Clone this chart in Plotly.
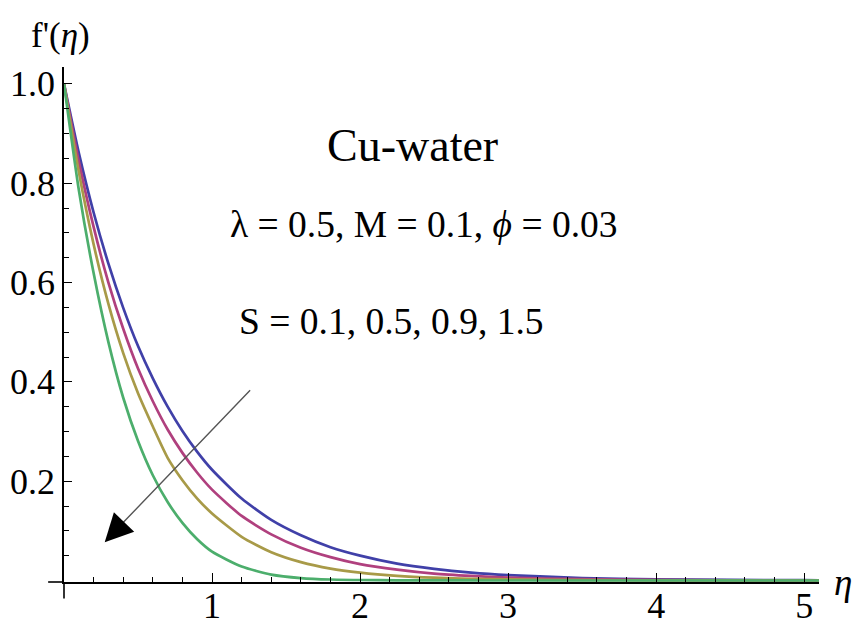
import plotly.graph_objects as go

# ---- data ----
eta = [0, 0.1, 0.2, 0.3, 0.4, 0.5, 0.6, 0.7, 0.8, 0.9, 1.0, 1.2, 1.4, 1.6, 1.8,
       2.0, 2.25, 2.5, 2.75, 3.0, 3.5, 4.0, 4.5, 5.0, 5.1]

fp_S01 = [1.0, 0.861, 0.741, 0.638, 0.549, 0.472, 0.407, 0.350, 0.301, 0.259, 0.223,
          0.165, 0.122, 0.091, 0.067, 0.050, 0.034, 0.0235, 0.016, 0.011, 0.005,
          0.0025, 0.0012, 0.0006, 0.0005]
fp_S05 = [1.0, 0.844, 0.712, 0.600, 0.507, 0.427, 0.361, 0.304, 0.257, 0.217, 0.183,
          0.130, 0.093, 0.066, 0.047, 0.033, 0.022, 0.014, 0.0093, 0.006, 0.0026,
          0.0011, 0.0005, 0.0002, 0.0002]
fp_S09 = [1.0, 0.823, 0.677, 0.557, 0.458, 0.377, 0.310, 0.247, 0.202, 0.165, 0.135,
          0.088, 0.057, 0.037, 0.024, 0.016, 0.0095, 0.0057, 0.0035, 0.0021, 0.0008,
          0.0003, 0.0001, 0.0, 0.0]
fp_S15 = [1.0, 0.787, 0.619, 0.480, 0.368, 0.281, 0.212, 0.158, 0.116, 0.083, 0.058,
          0.028, 0.012, 0.005, 0.002, 0.001, 0.0004, 0.0002, 0.0001, 0.0, 0.0,
          0.0, 0.0, 0.0, 0.0]

series = [fp_S01, fp_S05, fp_S09, fp_S15]
S_labels = ["S = 0.1", "S = 0.5", "S = 0.9", "S = 1.5"]
colors = ["#4040A8", "#B0407E", "#A89A48", "#4CAE6C"]

x_ticks = [1, 2, 3, 4, 5]
y_ticks = [0.2, 0.4, 0.6, 0.8, 1.0]
y_tick_text = ["0.2", "0.4", "0.6", "0.8", "1.0"]

FONT = "Liberation Serif, Times New Roman, serif"

fig = go.Figure()
for ys, name, c in zip(series, S_labels, colors):
    fig.add_trace(go.Scatter(x=eta, y=ys, mode="lines", name=name,
                             line=dict(color=c, width=2.7, shape="spline", smoothing=0.6)))

fig.update_layout(
    width=857, height=628,
    margin=dict(l=64, r=38, t=67, b=46, autoexpand=False),
    plot_bgcolor="white", paper_bgcolor="white",
    showlegend=False,
    font=dict(family=FONT, color="black", size=36),
    xaxis=dict(range=[0, 5.1], showgrid=False, zeroline=False, automargin=False,
               showline=True, linecolor="black", linewidth=1.6,
               ticks="inside", ticklen=9, tickwidth=1.4, tickcolor="black",
               tickvals=x_ticks, ticktext=[str(v) for v in x_ticks],
               tickfont=dict(size=36, family=FONT), ticklabelstandoff=-9,
               minor=dict(dtick=0.2, ticks="inside", ticklen=5, tickwidth=1.2,
                          tickcolor="black", showgrid=False)),
    yaxis=dict(range=[-0.003, 1.034], showgrid=False, zeroline=False, automargin=False,
               showline=True, linecolor="black", linewidth=1.6,
               ticks="inside", ticklen=8, tickwidth=1.4, tickcolor="black",
               tickvals=y_ticks, ticktext=y_tick_text,
               tickfont=dict(size=36, family=FONT),
               minor=dict(tickvals=[0.05, 0.1, 0.15, 0.25, 0.3, 0.35, 0.45, 0.5, 0.55,
                                    0.65, 0.7, 0.75, 0.85, 0.9, 0.95],
                          ticks="inside", ticklen=5, tickwidth=1.2,
                          tickcolor="black", showgrid=False)),
)

# small axis extensions past the origin (Mathematica style)
fig.add_shape(type="line", xref="paper", yref="paper", x0=-0.021, x1=0, y0=0, y1=0,
              line=dict(color="black", width=1.6))
fig.add_shape(type="line", xref="paper", yref="paper", x0=0, x1=0, y0=-0.032, y1=0,
              line=dict(color="black", width=1.6))

# axis labels
fig.add_annotation(text="f'(<i>η</i>)", xref="paper", yref="paper",
                   x=-0.004, y=1.062, xanchor="center", yanchor="middle",
                   showarrow=False, font=dict(size=35, family=FONT))
fig.add_annotation(text="<i>η</i>", xref="paper", yref="paper",
                   x=1.017, y=0.0, xanchor="left", yanchor="middle",
                   showarrow=False, font=dict(size=37, family=FONT))

# text labels
fig.add_annotation(text="Cu-water", xref="x", yref="y", x=2.355, y=0.876,
                   showarrow=False, font=dict(size=46, family=FONT))
fig.add_annotation(text="λ = 0.5, M = 0.1, <i>ϕ</i> = 0.03", xref="x", yref="y",
                   x=2.43, y=0.716, showarrow=False, font=dict(size=37.5, family=FONT))
fig.add_annotation(text="S = 0.1, 0.5, 0.9, 1.5", xref="x", yref="y",
                   x=2.21, y=0.522, showarrow=False, font=dict(size=37.5, family=FONT))

# arrow showing increasing S: gray shaft plus black head
fig.add_annotation(text="", x=0.32, y=0.092, ax=1.267, ay=0.386,
                   xref="x", yref="y", axref="x", ayref="y",
                   showarrow=True, arrowhead=0, arrowwidth=1.4,
                   arrowcolor="#555555", standoff=0)
fig.add_annotation(text="", x=0.275, y=0.077, ax=0.40, ay=0.116,
                   xref="x", yref="y", axref="x", ayref="y",
                   showarrow=True, arrowhead=2, arrowsize=4.0, arrowwidth=1.4,
                   arrowcolor="black", standoff=0)

fig.write_html("out.html")
